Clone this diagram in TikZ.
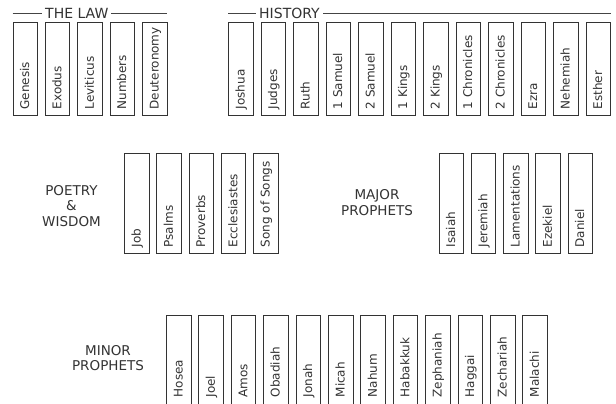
\documentclass[tikz,border=0pt]{standalone}
\usepackage{fontspec}
\setmainfont{DejaVu Sans}
\definecolor{ink}{HTML}{333333}
\definecolor{rule}{HTML}{444444}
\begin{document}
\begin{tikzpicture}[x=1pt,y=-1pt,
  bookbox/.style={draw=ink, line width=0.9pt, minimum width=24.5pt, inner sep=0pt, anchor=north west},
  booktext/.style={rotate=90, anchor=base west, inner sep=0pt, font=\fontsize{12}{14}\selectfont, text=ink},
  grouplabel/.style={align=center, font=\fontsize{13.5}{15.5}\selectfont, text=ink},
  headtext/.style={font=\fontsize{14}{15}\selectfont, text=ink, fill=white, inner xsep=3pt, inner ysep=1pt, anchor=west},
  headline/.style={draw=rule, line width=0.8pt}]
\clip (0,0) rectangle (616,404);
\fill[white] (0,0) rectangle (616,404);
% headers
\draw[headline] (12.5,13) coordinate (lawL) -- (167,13) coordinate (lawR);
\node[headtext] (law) at (42,13) {THE LAW};
\draw[headline] (228,13) coordinate (hisL) -- (611,13) coordinate (hisR);
\node[headtext] (history) at (256,13) {HISTORY};
% law
\foreach \nm/\lab [count=\i from 0] in {gen/Genesis, exo/Exodus, lev/Leviticus, num/Numbers, deu/Deuteronomy}{
  \node[bookbox, minimum height=92.5pt] (\nm) at ({12.5+32.4*\i},22.5) {};
  \node[booktext] (\nm-t) at ({12.5+32.4*\i+16.5},109.5) {\lab};
}
% history
\foreach \nm/\lab [count=\i from 0] in {jos/Joshua, jdg/Judges, rut/Ruth, sa1/1 Samuel, sa2/2 Samuel, ki1/1 Kings, ki2/2 Kings, ch1/1 Chronicles, ch2/2 Chronicles, ezr/Ezra, neh/Nehemiah, est/Esther}{
  \node[bookbox, minimum height=92.5pt] (\nm) at ({228+32.5*\i},22.5) {};
  \node[booktext] (\nm-t) at ({228+32.5*\i+16.5},109.5) {\lab};
}
% poetry
\node[grouplabel] (poetry) at (71.5,206) {POETRY\\\&\\WISDOM};
\foreach \nm/\lab [count=\i from 0] in {job/Job, psa/Psalms, pro/Proverbs, ecc/Ecclesiastes, sos/Song of Songs}{
  \node[bookbox, minimum height=100.5pt] (\nm) at ({124+32.3*\i},152.5) {};
  \node[booktext] (\nm-t) at ({124+32.3*\i+16.5},247.5) {\lab};
}
% major prophets
\node[grouplabel] (major) at (377,202.5) {MAJOR\\PROPHETS};
\foreach \nm/\lab [count=\i from 0] in {isa/Isaiah, jer/Jeremiah, lam/Lamentations, eze/Ezekiel, dan/Daniel}{
  \node[bookbox, minimum height=100.5pt] (\nm) at ({438.5+32.3*\i},152.5) {};
  \node[booktext] (\nm-t) at ({438.5+32.3*\i+16.5},247.5) {\lab};
}
% minor prophets
\node[grouplabel] (minor) at (108,358) {MINOR\\PROPHETS};
\foreach \nm/\lab [count=\i from 0] in {hos/Hosea, joe/Joel, amo/Amos, oba/Obadiah, jon/Jonah, mic/Micah, nah/Nahum, hab/Habakkuk, zep/Zephaniah, hag/Haggai, zec/Zechariah, mal/Malachi}{
  \node[bookbox, minimum height=100pt] (\nm) at ({166+32.4*\i},314.5) {};
  \node[booktext] (\nm-t) at ({166+32.4*\i+16.5},397.5) {\lab};
}
\end{tikzpicture}
\end{document}
